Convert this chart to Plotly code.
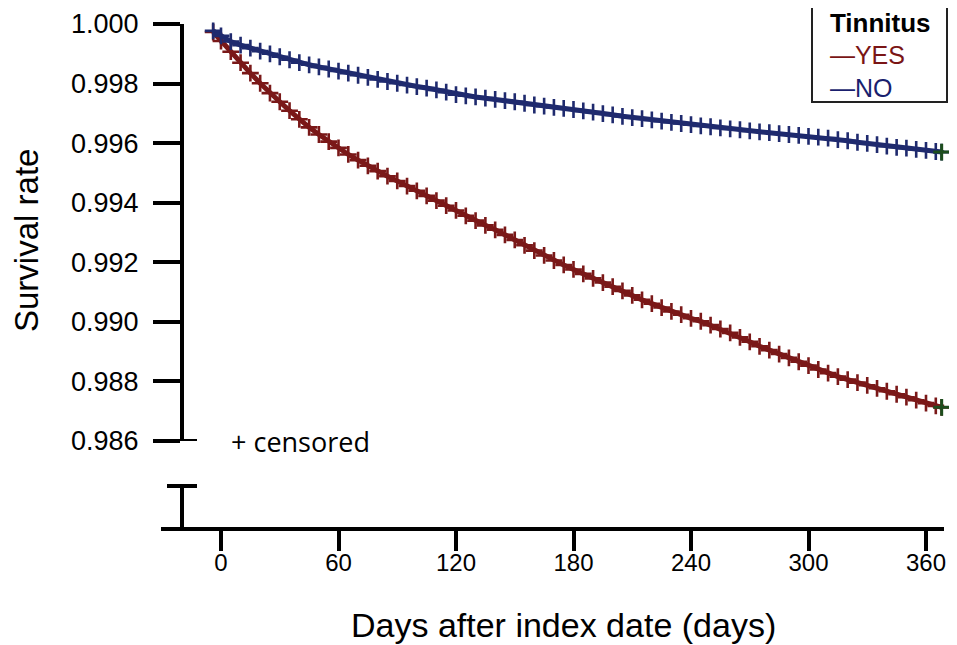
import plotly.graph_objects as go

# Kaplan-Meier curves (days after index date vs survival)
days = [-4, 0, 5, 10, 15, 20, 25, 30, 35, 40, 45, 50, 55, 60, 65, 70, 75, 80,
        85, 90, 95, 100, 105, 110, 115, 120, 125, 130, 135, 140, 145, 150,
        155, 160, 165, 170, 175, 180, 185, 190, 195, 200, 205, 210, 215, 220,
        225, 230, 235, 240, 245, 250, 255, 260, 265, 270, 275, 280, 285, 290,
        295, 300, 305, 310, 315, 320, 325, 330, 335, 340, 345, 350, 355, 360,
        365, 368]

surv_yes = [0.99973, 0.99943, 0.99907, 0.99870, 0.99835, 0.99801, 0.99768,
            0.99739, 0.99709, 0.99680, 0.99653, 0.99629, 0.99605, 0.99584,
            0.99562, 0.99543, 0.99524, 0.99506, 0.99489, 0.99473, 0.99456,
            0.99440, 0.99423, 0.99407, 0.99390, 0.99374, 0.99356, 0.99340,
            0.99324, 0.99309, 0.99292, 0.99275, 0.99257, 0.99239, 0.99223,
            0.99206, 0.99191, 0.99176, 0.99161, 0.99146, 0.99132, 0.99118,
            0.99104, 0.99089, 0.99074, 0.99061, 0.99048, 0.99035, 0.99024,
            0.99012, 0.99002, 0.98989, 0.98976, 0.98963, 0.98948, 0.98933,
            0.98918, 0.98905, 0.98892, 0.98879, 0.98866, 0.98853, 0.98840,
            0.98828, 0.98816, 0.98806, 0.98796, 0.98787, 0.98777, 0.98767,
            0.98757, 0.98747, 0.98737, 0.98727, 0.98718, 0.98713]

surv_no = [0.99977, 0.99960, 0.99941, 0.99929, 0.99919, 0.99909, 0.99900,
           0.99890, 0.99880, 0.99870, 0.99863, 0.99856, 0.99849, 0.99842,
           0.99835, 0.99828, 0.99821, 0.99814, 0.99807, 0.99801, 0.99795,
           0.99790, 0.99785, 0.99779, 0.99771, 0.99763, 0.99759, 0.99755,
           0.99751, 0.99747, 0.99743, 0.99739, 0.99734, 0.99728, 0.99724,
           0.99720, 0.99717, 0.99713, 0.99708, 0.99704, 0.99699, 0.99695,
           0.99690, 0.99686, 0.99682, 0.99678, 0.99674, 0.99670, 0.99666,
           0.99662, 0.99658, 0.99655, 0.99651, 0.99648, 0.99645, 0.99641,
           0.99638, 0.99635, 0.99632, 0.99629, 0.99626, 0.99623, 0.99620,
           0.99617, 0.99612, 0.99608, 0.99603, 0.99599, 0.99595, 0.99590,
           0.99586, 0.99583, 0.99579, 0.99576, 0.99572, 0.99570]

x_ticks = [0, 60, 120, 180, 240, 300, 360]
y_ticks = [0.986, 0.988, 0.990, 0.992, 0.994, 0.996, 0.998, 1.000]
y_ticktext = ["0.986", "0.988", "0.990", "0.992", "0.994", "0.996", "0.998", "1.000"]

RED = "#7a1818"
BLUE = "#1f2a6e"
GREEN = "#1d4d1d"

fig = go.Figure()

for name, surv, color in [("YES", surv_yes, RED), ("NO", surv_no, BLUE)]:
    fig.add_trace(go.Scatter(
        x=days, y=surv, name=name, mode="lines+markers",
        line=dict(color=color, width=5),
        marker=dict(symbol="cross-thin", size=12,
                    line=dict(color=color, width=2.6)),
        cliponaxis=False, showlegend=False))
    # last censored mark in green
    fig.add_trace(go.Scatter(
        x=[days[-1]], y=[surv[-1]], mode="markers",
        marker=dict(symbol="cross-thin", size=12,
                    line=dict(color=GREEN, width=3)),
        cliponaxis=False, showlegend=False))

# dummy trace for the broken lower piece of the y axis
fig.add_trace(go.Scatter(x=[None], y=[None], yaxis="y2", showlegend=False))

# page pixel geometry (the page body adds an 8px offset)
OFF = 8
L, R, T, B = 161, 13, 24, 116
W, H = 957, 645
pw = W - L - R
ph = H - T - B
px_per_day = 705 / 360.0
x0 = -(221 - L) / px_per_day
x1 = 360 + (944 - 926) / px_per_day
ypos = (182 - L) / pw
dom_lo = (529 - 441) / ph
seg_hi = (529 - 486) / ph


def px(xp):
    return (xp - L) / pw


def py(yp):
    return (529 - yp) / ph


fig.update_layout(
    width=W, height=H,
    margin=dict(l=L - OFF, r=R + OFF, t=T - OFF, b=B + OFF, pad=0,
                autoexpand=False),
    plot_bgcolor="white", paper_bgcolor="white",
    font=dict(family="Liberation Sans, Arial, sans-serif", color="black"),
    xaxis=dict(
        range=[x0, x1], domain=[0, 1], anchor="free", position=0,
        tickvals=x_ticks, ticks="outside", ticklen=20, tickwidth=4,
        tickcolor="black", showline=True, linecolor="black", linewidth=4,
        showgrid=False, zeroline=False, tickfont=dict(size=24),
        ticklabelstandoff=-9, automargin=False),
    yaxis=dict(
        range=[0.986, 1.000], domain=[dom_lo, 1], anchor="free",
        position=ypos, tickvals=y_ticks, ticktext=y_ticktext,
        ticks="outside", ticklen=27, tickwidth=4, tickcolor="black",
        showline=True, linecolor="black", linewidth=4, showgrid=False,
        zeroline=False, tickfont=dict(size=27), ticklabelstandoff=9,
        automargin=False),
    yaxis2=dict(
        range=[0, 1], domain=[0, seg_hi], anchor="free", position=ypos,
        showline=True, linecolor="black", linewidth=4, showgrid=False,
        zeroline=False, showticklabels=False, ticks="", automargin=False),
)

# caps on the broken axis
fig.add_shape(type="line", xref="paper", yref="y", x0=ypos, x1=px(197),
              y0=y_ticks[0], y1=y_ticks[0],
              line=dict(color="black", width=4))
fig.add_shape(type="line", xref="paper", yref="y2 domain", x0=px(167),
              x1=px(197), y0=1, y1=1, line=dict(color="black", width=4))

fig.add_annotation(
    text="Days after index date (days)", xref="paper", yref="paper",
    x=px(563), y=py(625), xanchor="center", yanchor="middle",
    showarrow=False, font=dict(size=34))
fig.add_annotation(
    text="Survival rate", xref="paper", yref="paper", textangle=-90,
    x=px(26), y=py(241), xanchor="center", yanchor="middle",
    showarrow=False, font=dict(size=33))
fig.add_annotation(
    text="+ censored", xref="paper", yref="paper", xanchor="left",
    yanchor="middle", x=px(229), y=py(441), showarrow=False,
    font=dict(size=27, family="Open Sans, Liberation Sans, sans-serif"))

# legend box drawn as a framed text block
legend_txt = ("&nbsp;&nbsp;<span style='font-size:26px'><b>Tinnitus</b></span><br>"
              "&nbsp;&nbsp;<span style='color:%s'>\u2014YES</span><br>"
              "&nbsp;&nbsp;<span style='color:%s'>\u2014NO</span>"
              % ("#7a1515", "#1a1f6e"))
fig.add_annotation(
    text=legend_txt, xref="paper", yref="paper", xanchor="left",
    yanchor="top", x=px(811), y=py(6), showarrow=False,
    align="left", width=127, height=87, borderpad=3, bordercolor="#222222",
    borderwidth=2, bgcolor="white", font=dict(size=25))

fig.write_html("out.html")
